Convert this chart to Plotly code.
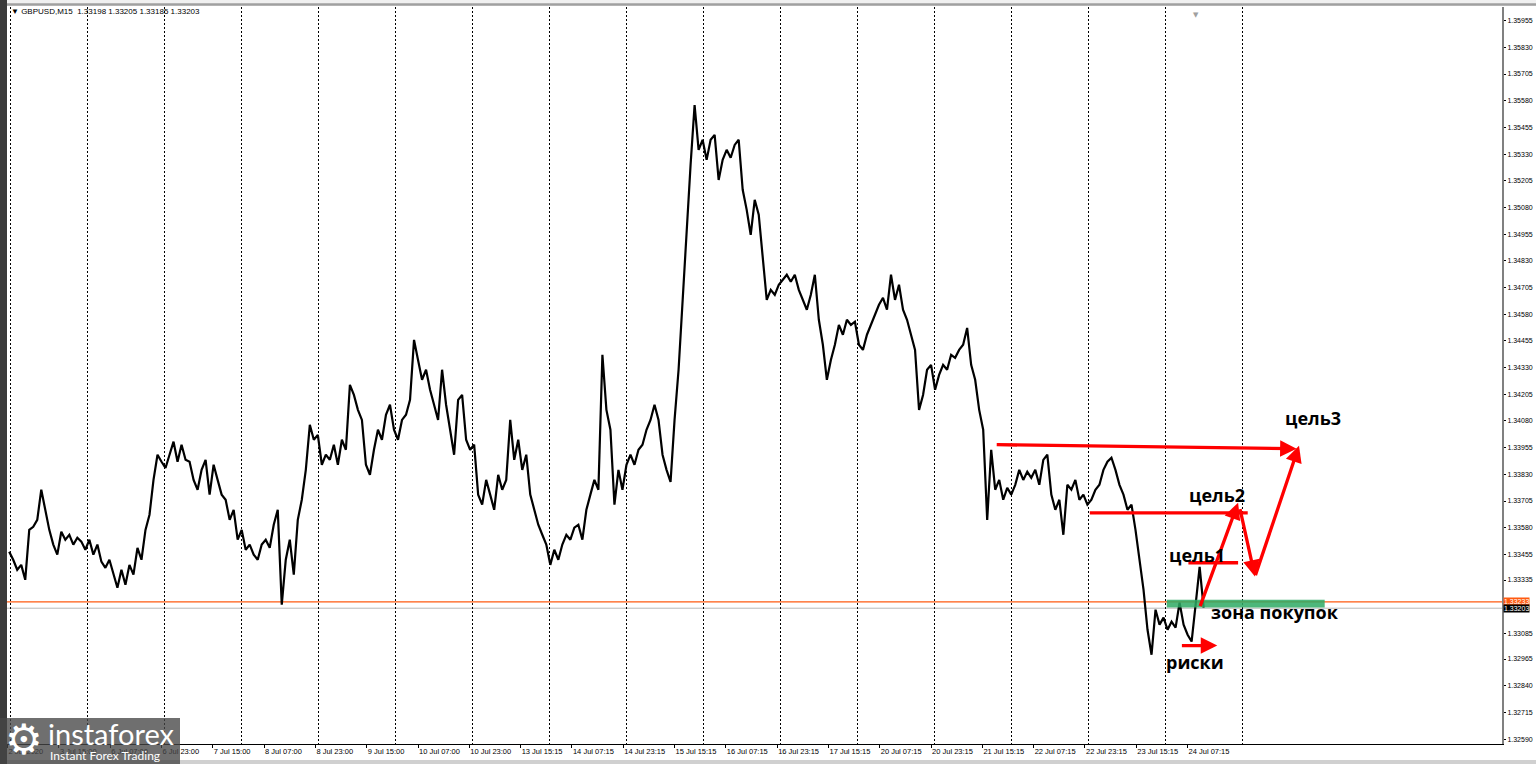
import plotly.graph_objects as go

# GBPUSD M15 path, one value every 5 bars
close_prices = [
    1.33468, 1.33430, 1.33383, 1.33406, 1.33336, 1.33570, 1.33584, 1.33617, 1.33758, 1.33664,
    1.33570, 1.33501, 1.33454, 1.33561, 1.33524, 1.33547, 1.33501, 1.33533, 1.33515, 1.33477,
    1.33524, 1.33454, 1.33501, 1.33421, 1.33392, 1.33430, 1.33360, 1.33299, 1.33383, 1.33313,
    1.33406, 1.33360, 1.33486, 1.33430, 1.33570, 1.33641, 1.33804, 1.33922, 1.33889, 1.33860,
    1.33922, 1.33983, 1.33889, 1.33969, 1.33898, 1.33889, 1.33804, 1.33758, 1.33851, 1.33898,
    1.33735, 1.33875, 1.33804, 1.33735, 1.33711, 1.33617, 1.33664, 1.33524, 1.33570, 1.33477,
    1.33501, 1.33454, 1.33430, 1.33501, 1.33524, 1.33486, 1.33594, 1.33664, 1.33220, 1.33430,
    1.33524, 1.33360, 1.33617, 1.33711, 1.33851, 1.34062, 1.33992, 1.34015, 1.33875, 1.33922,
    1.33898, 1.33969, 1.33875, 1.33992, 1.33945, 1.34249, 1.34202, 1.34132, 1.34085, 1.33875,
    1.33828, 1.33945, 1.34039, 1.33992, 1.34109, 1.34156, 1.34039, 1.33992, 1.34085, 1.34109,
    1.34179, 1.34460, 1.34366, 1.34273, 1.34320, 1.34226, 1.34156, 1.34085, 1.34320, 1.34156,
    1.34039, 1.33922, 1.34179, 1.34202, 1.33992, 1.33945, 1.33969, 1.33735, 1.33688, 1.33804,
    1.33735, 1.33664, 1.33828, 1.33758, 1.33804, 1.34085, 1.33898, 1.33992, 1.33851, 1.33922,
    1.33735, 1.33664, 1.33594, 1.33547, 1.33501, 1.33406, 1.33477, 1.33430, 1.33501, 1.33547,
    1.33524, 1.33580, 1.33594, 1.33524, 1.33664, 1.33735, 1.33804, 1.33758, 1.34390, 1.34132,
    1.34039, 1.33688, 1.33851, 1.33758, 1.33875, 1.33922, 1.33875, 1.33945, 1.33969, 1.34039,
    1.34085, 1.34156, 1.34085, 1.33922, 1.33851, 1.33795, 1.34085, 1.34320, 1.34647, 1.34975,
    1.35280, 1.35560, 1.35350, 1.35397, 1.35303, 1.35397, 1.35420, 1.35209, 1.35303, 1.35350,
    1.35313, 1.35373, 1.35397, 1.35163, 1.35069, 1.34952, 1.35116, 1.35046, 1.34858, 1.34647,
    1.34694, 1.34671, 1.34718, 1.34741, 1.34765, 1.34732, 1.34765, 1.34694, 1.34647, 1.34601,
    1.34671, 1.34765, 1.34554, 1.34437, 1.34273, 1.34366, 1.34437, 1.34530, 1.34484, 1.34554,
    1.34530, 1.34545, 1.34437, 1.34413, 1.34484, 1.34530, 1.34577, 1.34624, 1.34657, 1.34601,
    1.34765, 1.34647, 1.34718, 1.34601, 1.34554, 1.34484, 1.34413, 1.34132, 1.34202, 1.34320,
    1.34343, 1.34226, 1.34296, 1.34343, 1.34320, 1.34390, 1.34376, 1.34413, 1.34437, 1.34516,
    1.34343, 1.34273, 1.34132, 1.34039, 1.33617, 1.33945, 1.33758, 1.33804, 1.33711, 1.33767,
    1.33735, 1.33781, 1.33851, 1.33804, 1.33842, 1.33814, 1.33851, 1.33781, 1.33898, 1.33922,
    1.33735, 1.33664, 1.33711, 1.33547, 1.33781, 1.33758, 1.33804, 1.33711, 1.33735, 1.33688,
    1.33711, 1.33758, 1.33781, 1.33851, 1.33889, 1.33908, 1.33851, 1.33781, 1.33735, 1.33664,
    1.33688, 1.33570, 1.33430, 1.33290, 1.33102, 1.32985, 1.33196, 1.33126, 1.33159, 1.33102,
    1.33140, 1.33112, 1.33229, 1.33126, 1.33079, 1.33047, 1.33220, 1.33397, 1.33206,
]
bar_step = 5
first_bar = 2

# time axis labels, one every 64 bars (16 hours of M15)
x_labels = [
    "2 Jul 2020", "3 Jul 15:00", "6 Jul 07:00", "6 Jul 23:00", "7 Jul 15:00",
    "8 Jul 07:00", "8 Jul 23:00", "9 Jul 15:00", "10 Jul 07:00", "10 Jul 23:00",
    "13 Jul 15:15", "14 Jul 07:15", "14 Jul 23:15", "15 Jul 15:15", "16 Jul 07:15",
    "16 Jul 23:15", "17 Jul 15:15", "20 Jul 07:15", "20 Jul 23:15", "21 Jul 15:15",
    "22 Jul 07:15", "22 Jul 23:15", "23 Jul 15:15", "24 Jul 07:15",
]
label_step = 64
day_step = 96
n_days = 17

y_ticks = [
    1.35955, 1.35830, 1.35705, 1.35580, 1.35455, 1.35330, 1.35205, 1.35080,
    1.34955, 1.34830, 1.34705, 1.34580, 1.34455, 1.34330, 1.34205, 1.34080,
    1.33955, 1.33830, 1.33705, 1.33580, 1.33455, 1.33335, 1.33085, 1.32965,
    1.32840, 1.32715, 1.32590,
]

ask_level = 1.33233
bid_level = 1.33203

bars = [first_bar + bar_step * i for i in range(len(close_prices))]

fig = go.Figure()
fig.add_trace(go.Scatter(x=bars, y=close_prices, mode="lines",
                         line=dict(color="black", width=2.2), hoverinfo="skip"))

# plot area in px: x 7..1502, y 7..744
def px(x):
    return (x - 7) / 1495

def py(y):
    return (744 - y) / 737

shapes = []
# ask / bid lines
shapes.append(dict(type="line", xref="paper", x0=0, x1=1, yref="y", y0=ask_level, y1=ask_level,
                   line=dict(color="#ff5a10", width=1.2), layer="below"))
shapes.append(dict(type="line", xref="paper", x0=0, x1=1, yref="y", y0=bid_level, y1=bid_level,
                   line=dict(color="#b8b8b8", width=1), layer="below"))

red = "#ff0000"
# buy zone
shapes.append(dict(type="rect", xref="x", yref="y", x0=1446, x1=1643, y0=1.33206, y1=1.33243,
                   fillcolor="rgba(46,170,100,0.85)", line=dict(width=0)))
# target levels
shapes.append(dict(type="line", xref="x", yref="y", x0=1350, x1=1547, y0=1.33650, y1=1.33650,
                   line=dict(color=red, width=3.3)))
shapes.append(dict(type="line", xref="x", yref="y", x0=1473, x1=1535, y0=1.33416, y1=1.33416,
                   line=dict(color=red, width=3.3)))

# window chrome
shapes.append(dict(type="rect", xref="paper", yref="paper", x0=px(0), x1=px(1536), y0=py(6), y1=py(0),
                   fillcolor="#f0f0f0", line=dict(width=0)))
shapes.append(dict(type="line", xref="paper", yref="paper", x0=px(0), x1=px(1536), y0=py(4.5), y1=py(4.5),
                   line=dict(color="#a0a0a0", width=2.5)))
shapes.append(dict(type="rect", xref="paper", yref="paper", x0=px(0), x1=px(7), y0=py(764), y1=py(0),
                   fillcolor="#3a3a3a", line=dict(width=0)))
shapes.append(dict(type="rect", xref="paper", yref="paper", x0=px(7), x1=px(1536), y0=py(764), y1=py(760),
                   fillcolor="#d0d0d0", line=dict(width=0)))
# watermark box
shapes.append(dict(type="rect", xref="paper", yref="paper", x0=px(0), x1=px(180), y0=py(764), y1=py(718),
                   fillcolor="rgba(70,70,70,0.78)", line=dict(width=0)))

annotations = []
# trade plan arrows: (tail bar, tail price, head bar, head price)
arrows = [
    (1232, 1.33969, 1608, 1.33950),
    (1487, 1.33206, 1535, 1.33697),
    (1537, 1.33674, 1556, 1.33351),
    (1556, 1.33351, 1611, 1.33964),
    (1463, 1.33028, 1509, 1.33028),
]
for tx, ty, hx, hy in arrows:
    annotations.append(dict(x=hx, y=hy, ax=tx, ay=ty, xref="x", yref="y", axref="x", ayref="y",
                            text="", showarrow=True, arrowhead=2, arrowsize=1.0,
                            arrowwidth=3.3, arrowcolor=red, standoff=0))

labels = [
    ("цель3", 1628, 1.34095),
    ("цель2", 1509, 1.33735),
    ("цель1", 1484, 1.33454),
    ("зона покупок", 1581, 1.33187),
    ("риски", 1481, 1.32953),
]
for txt, lx, ly in labels:
    annotations.append(dict(x=lx, y=ly, xref="x", yref="y", text=txt, showarrow=False,
                            font=dict(family="Open Sans", size=18, color="black", weight="bold")))

# header
annotations.append(dict(x=px(9), y=py(12), xref="paper", yref="paper", xanchor="left", yanchor="middle",
                        text="▼ GBPUSD,M15\u00a0\u00a01.33198 1.33205 1.33185 1.33203", showarrow=False,
                        font=dict(family="Liberation Sans", size=8, color="black")))
annotations.append(dict(x=px(1201), y=py(9), xref="paper", yref="paper", text="▼", showarrow=False,
                        font=dict(family="DejaVu Sans", size=7, color="#a0a0a0")))
# price labels on the axis
annotations.append(dict(x=1, y=ask_level, xref="paper", yref="y", xanchor="left", yanchor="middle", xshift=1,
                        text="1.33233", showarrow=False, bgcolor="#ff5a10", borderpad=0,
                        font=dict(family="Liberation Sans", size=7, color="white")))
annotations.append(dict(x=1, y=bid_level, xref="paper", yref="y", xanchor="left", yanchor="middle", xshift=1,
                        text="1.33203", showarrow=False, bgcolor="black", borderpad=0,
                        font=dict(family="Liberation Sans", size=7, color="white")))
# watermark
annotations.append(dict(x=px(24), y=py(739), xref="paper", yref="paper", xanchor="center", yanchor="middle",
                        text="⚙", showarrow=False,
                        font=dict(family="DejaVu Sans", size=42, color="white")))
annotations.append(dict(x=px(46), y=py(733), xref="paper", yref="paper", xanchor="left", yanchor="middle",
                        text="instaforex", showarrow=False,
                        font=dict(family="Lato", size=29, color="white")))
annotations.append(dict(x=px(48), y=py(755), xref="paper", yref="paper", xanchor="left", yanchor="middle",
                        text="Instant Forex Trading", showarrow=False,
                        font=dict(family="Lato", size=12, color="white")))

fig.update_layout(
    width=1536, height=764,
    margin=dict(l=7, r=34, t=7, b=20, autoexpand=False),
    paper_bgcolor="white", plot_bgcolor="white",
    showlegend=False,
    shapes=shapes, annotations=annotations,
    xaxis=dict(
        range=[-0.75, 1864.2],
        automargin=False,
        tickvals=[label_step * i for i in range(len(x_labels))],
        ticktext=x_labels,
        ticks="outside", ticklen=3, tickcolor="black",
        ticklabelposition="outside right",
        tickfont=dict(family="Liberation Sans", size=7.5, color="black"),
        showline=True, linecolor="black", linewidth=1,
        showgrid=False, zeroline=False,
        minor=dict(tickvals=[4 + day_step * j for j in range(n_days)], showgrid=True,
                   gridcolor="black", griddash="2px,2px", gridwidth=1, ticks=""),
    ),
    yaxis=dict(
        side="right",
        range=[1.32567, 1.36019],
        automargin=False,
        tickvals=y_ticks,
        ticktext=["%.5f" % v for v in y_ticks],
        ticks="outside", ticklen=2, tickcolor="black",
        tickfont=dict(family="Liberation Sans", size=7, color="black"),
        showline=True, linecolor="#808080", linewidth=2,
        showgrid=False, zeroline=False,
    ),
)

fig.write_html("out.html", config={"displayModeBar": False},
               post_script="document.body.style.margin='0';document.body.style.overflow='hidden';")
